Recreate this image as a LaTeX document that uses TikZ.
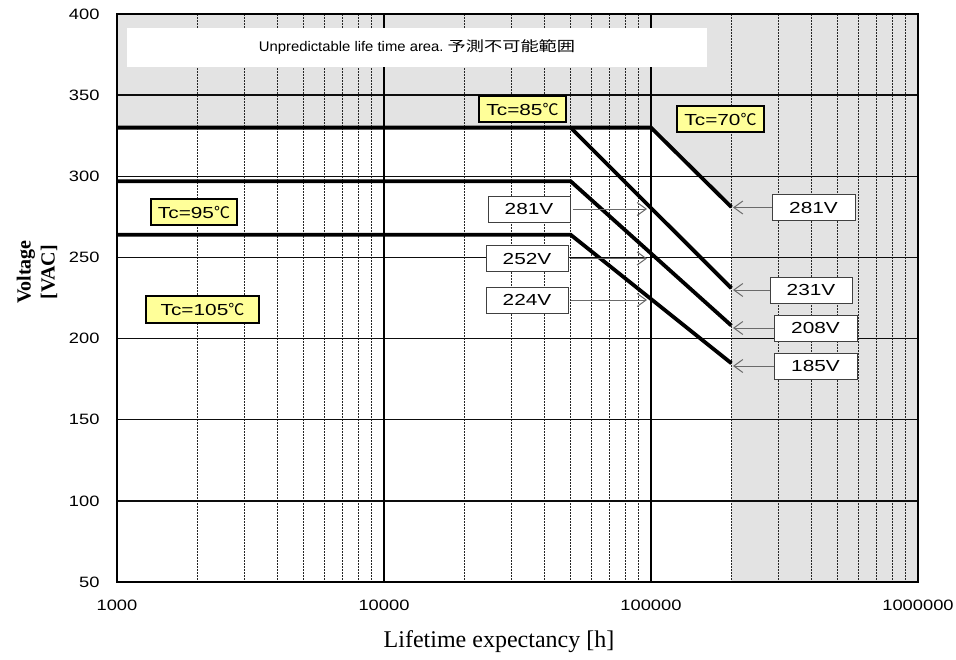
\documentclass[tikz,border=0pt]{standalone}
\usepackage{fontspec}
\usepackage{graphicx}
\setmainfont{Liberation Serif}
\newfontfamily\tickfont[FakeStretch=1.22]{Liberation Sans}
\newfontfamily\valfont[FakeStretch=1.3]{Liberation Sans}
\newfontfamily\notefont[FakeStretch=1.06]{Liberation Sans}
\newfontfamily\cjkfont[FakeStretch=1.3]{Noto Sans CJK JP}
\newfontfamily\degfont{Noto Sans CJK JP}
\usetikzlibrary{arrows.meta}
\definecolor{zone}{HTML}{E3E3E3}
\definecolor{tcyellow}{HTML}{FFFF99}
\definecolor{pointergray}{HTML}{6A6A6A}
\tikzset{
  minorgrid/.style={draw=black!85, line width=0.9pt, dash pattern=on 2pt off 1pt},
  majorgrid/.style={draw=black!95, line width=1.4pt},
  decade/.style={draw=black, line width=2pt},
  curve/.style={draw=black, line width=3.8pt, line join=miter},
  tcbox/.style={draw=black, line width=1.5pt, fill=tcyellow, minimum height=26pt,
    inner sep=0pt, font=\valfont\fontsize{16}{18}\selectfont},
  valbox/.style={draw=black!75, line width=1pt, fill=white, minimum width=82pt,
    minimum height=26pt, inner sep=0pt, font=\valfont\fontsize{16}{18}\selectfont},
  pointer/.style={draw=pointergray, line width=1pt,
    -{Straight Barb[length=9pt, width=13pt]}},
  ytick/.style={anchor=east, font=\tickfont\fontsize{15}{18}\selectfont},
  xtick/.style={font=\tickfont\fontsize{15}{18}\selectfont},
}
\newcommand{\degC}{{\degfont ℃}}
\begin{document}
\begin{tikzpicture}[x=1pt, y=-1pt]
  \useasboundingbox (0,0) rectangle (956,659);
  % unpredictable zone
  \fill[zone] (117,14) -- (918,14) -- (918,582) -- (731.4,582) -- (731.4,207.1)
    -- (651,127.6) -- (117,127.6) -- cycle;
  % minor vertical grid (2..9 per decade)
  \foreach \d in {0,1,2}
    \foreach \l in {0.30103,0.47712,0.60206,0.69897,0.77815,0.84510,0.90309,0.95424}
      \draw[minorgrid] ({117+267*(\d+\l)},14) -- ({117+267*(\d+\l)},582);
  % horizontal grid every 50 V
  \foreach \v in {100,150,200,250,300,350}
    \draw[majorgrid] (117,{582-(\v-50)*1.622857}) -- (918,{582-(\v-50)*1.622857});
  % decade lines
  \draw[decade] (384,14) -- (384,582);
  \draw[decade] (651,14) -- (651,582);
  % frame
  \draw[line width=2pt] (117,14) rectangle (918,582);
  % note box
  \node[fill=white, minimum width=580pt, minimum height=39pt, inner sep=0pt] (note) at (417,47.5)
    {\notefont\fontsize{14}{16}\selectfont Unpredictable life time area.\ {\cjkfont 予測不可能範囲}};
  % derating curves
  \draw[curve] (117,127.6) -- (651,127.6) -- (731.4,207.1);
  \draw[curve] (570.6,127.6) -- (731.4,288.3);
  \draw[curve] (117,181.2) -- (570.6,181.2) -- (731.4,325.6);
  \draw[curve] (117,234.7) -- (570.6,234.7) -- (731.4,363.3);
  % case temperature labels
  \node[tcbox, minimum width=87pt] (tc85) at (522.5,109) {Tc=85\degC};
  \node[tcbox, minimum width=87pt] (tc70) at (720.5,119) {Tc=70\degC};
  \node[tcbox, minimum width=86pt] (tc95) at (194,212) {Tc=95\degC};
  \node[tcbox, minimum width=113pt, minimum height=27pt] (tc105) at (202.5,309.5) {Tc=105\degC};
  % voltage at 100000 h
  \node[valbox] (a281) at (529,209) {281V};
  \node[valbox] (a252) at (527,258.5) {252V};
  \node[valbox] (a224) at (527,300) {224V};
  \coordinate (pa) at (647,0);
  \draw[pointer] (a281.east) ++(2,0) -- (pa |- a281.east);
  \draw[pointer] (a252.east) ++(2,0) -- (pa |- a252.east);
  \draw[pointer] (a224.east) ++(2,0) -- (pa |- a224.east);
  % voltage at 200000 h
  \node[valbox, minimum width=83pt] (b281) at (813.5,207.5) {281V};
  \node[valbox] (b231) at (811,290) {231V};
  \node[valbox, minimum width=83pt] (b208) at (815.5,328) {208V};
  \node[valbox, minimum width=83pt] (b185) at (815.5,366) {185V};
  \coordinate (pb) at (733,0);
  \draw[pointer] (b281.west) -- (pb |- b281.west);
  \draw[pointer] (b231.west) -- (pb |- b231.west);
  \draw[pointer] (b208.west) -- (pb |- b208.west);
  \draw[pointer] (b185.west) -- (pb |- b185.west);
  % y tick labels
  \foreach \v in {50,100,150,200,250,300,350,400}
    \node[ytick] (y\v) at (103,{582-(\v-50)*1.622857}) {\v};
  % x tick labels
  \node[xtick] (x3) at (117,605) {1000};
  \node[xtick] (x4) at (384,605) {10000};
  \node[xtick] (x5) at (651,605) {100000};
  \node[xtick] (x6) at (918,605) {1000000};
  % axis titles
  \node[font=\fontsize{24}{28}\selectfont] (xlab) at (499,642) {Lifetime expectancy [h]};
  \node[rotate=90, align=center, font=\bfseries\fontsize{20}{24}\selectfont] (ylab) at (37,272)
    {Voltage\\{[VAC]}};
\end{tikzpicture}
\end{document}
